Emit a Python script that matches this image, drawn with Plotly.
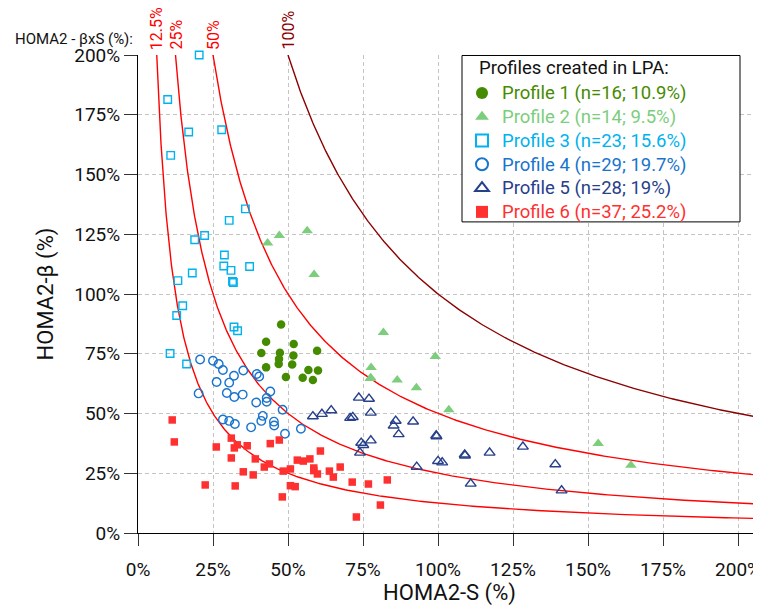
import numpy as np
import plotly.graph_objects as go

# ---- data (HOMA2-S %, HOMA2-beta %) ----
p1_s = [47.7, 42.7, 51.9, 41.1, 47.3, 59.7, 51.8, 47.0, 46.9, 51.4, 42.7, 56.8, 60.0, 49.3, 54.9, 58.3]
p1_b = [87.2, 80.0, 79.1, 75.3, 75.4, 76.3, 74.3, 72.8, 70.7, 70.5, 69.3, 68.2, 68.0, 65.3, 65.0, 64.0]

p2_s = [43.2, 47.1, 56.4, 58.7, 81.8, 99.1, 77.7, 77.4, 77.6, 86.4, 92.8, 103.6, 153.4, 164.3]
p2_b = [121.3, 124.5, 126.5, 108.2, 83.9, 73.8, 69.2, 64.6, 65.0, 64.0, 60.8, 51.6, 37.4, 28.3]

p3_s = [20.4, 9.9, 16.9, 27.9, 10.9, 35.8, 30.4, 22.2, 18.9, 28.8, 28.6, 31.0, 37.2, 18.1, 13.3,
        31.5, 31.8, 14.9, 12.9, 32.0, 33.2, 10.7, 16.2]
p3_b = [200.0, 181.4, 167.8, 168.7, 158.0, 135.6, 130.8, 124.5, 122.7, 116.3, 111.7, 109.9, 111.5,
        108.8, 105.6, 105.3, 104.8, 95.1, 91.0, 86.2, 84.6, 75.1, 70.7]

p4_s = [20.7, 25.0, 26.9, 28.3, 35.1, 32.0, 39.6, 40.4, 26.2, 30.4, 20.2, 29.6, 32.1, 34.9, 44.1,
        42.9, 42.9, 39.4, 48.2, 28.3, 30.4, 32.3, 37.7, 41.6, 41.1, 45.3, 45.4, 49.0, 54.3]
p4_b = [72.6, 72.1, 70.7, 68.2, 68.0, 65.8, 66.5, 65.5, 63.2, 62.9, 58.4, 58.6, 56.9, 57.9, 59.2,
        56.5, 54.9, 54.6, 51.6, 47.5, 46.9, 45.6, 44.2, 49.0, 46.9, 46.6, 45.0, 41.5, 43.6]

p5_s = [58.3, 61.3, 64.4, 70.7, 71.6, 73.6, 77.0, 77.6, 74.4, 75.1, 77.6, 74.0, 85.9, 85.2, 91.7,
        86.9, 99.4, 99.5, 92.9, 100.0, 101.4, 108.9, 109.0, 117.2, 128.3, 110.9, 139.1, 141.2]
p5_b = [48.8, 49.8, 51.3, 48.1, 48.5, 56.6, 56.1, 50.3, 37.7, 36.8, 38.7, 33.6, 46.9, 44.9, 46.6,
        41.3, 40.8, 40.4, 27.7, 30.1, 29.5, 32.8, 32.4, 33.6, 36.1, 20.6, 28.7, 17.8]

p6_s = [11.4, 12.1, 22.4, 26.1, 31.1, 33.1, 32.1, 31.1, 32.4, 36.4, 35.1, 39.1, 38.4, 42.1, 43.8,
        44.1, 47.1, 48.1, 48.4, 50.8, 50.8, 52.4, 53.1, 55.1, 57.3, 60.8, 58.6, 58.6, 59.8, 63.8,
        65.1, 67.4, 71.4, 72.8, 76.8, 80.8, 83.1]
p6_b = [47.3, 38.1, 20.1, 36.0, 39.7, 36.9, 35.6, 31.4, 19.7, 36.5, 25.6, 31.0, 24.3, 27.6, 28.9,
        37.4, 38.9, 15.1, 25.9, 26.8, 19.8, 19.4, 30.5, 30.1, 31.0, 34.3, 27.2, 26.1, 24.7, 25.9,
        23.4, 27.6, 21.3, 6.7, 20.5, 11.7, 22.2]

profile_names = ["Profile 1 (n=16; 10.9%)", "Profile 2 (n=14; 9.5%)", "Profile 3 (n=23; 15.6%)",
                 "Profile 4 (n=29; 19.7%)", "Profile 5 (n=28; 19%)", "Profile 6 (n=37; 25.2%)"]
profile_colors = ["#458B00", "#7CCD7C", "#00B2EE", "#1874CD", "#27408B", "#FF3030"]

# iso-lines of HOMA2 beta x S (%)
iso_levels = [12.5, 25, 50, 100]
iso_labels = ["12.5%", "25%", "50%", "100%"]
iso_colors = ["#FF0000", "#FF0000", "#FF0000", "#8B0000"]

x_ticks = [0, 25, 50, 75, 100, 125, 150, 175, 200]
y_ticks = [0, 25, 50, 75, 100, 125, 150, 175, 200]

# ---- geometry (screen pixels; page body has an 8px margin) ----
OFF = 8
W, H = 761, 606 - OFF
PLOT_L, PLOT_R, PLOT_T, PLOT_B = 138, 761, 55, 533.3   # screen px of plot area
L, R, T, B = PLOT_L - OFF, W + OFF - PLOT_R, PLOT_T - OFF, 606 - PLOT_B
X_MAX = 200 * (PLOT_R - PLOT_L) / 600.0
Y_MAX = 200


def px_x(px):
    return (px - PLOT_L) / (PLOT_R - PLOT_L)


def px_y(py):
    return (PLOT_B - py) / (PLOT_B - PLOT_T)


fig = go.Figure()

# iso curves
for lev, col in zip(iso_levels, iso_colors):
    s = np.geomspace(lev * 100 / Y_MAX, X_MAX, 300)
    fig.add_trace(go.Scatter(x=s, y=lev * 100 / s, mode="lines",
                             line=dict(color=col, width=1.4),
                             showlegend=False, hoverinfo="skip"))

series = [(p1_s, p1_b, "circle", 8.5, 0), (p2_s, p2_b, "triangle-up", 10, 0),
          (p3_s, p3_b, "square-open", 7.5, 1.4), (p4_s, p4_b, "circle-open", 8.5, 1.4),
          (p5_s, p5_b, "triangle-up-open", 9.5, 1.4), (p6_s, p6_b, "square", 7.5, 0)]

for (xs, ys, sym, size, lw), name, col in zip(series, profile_names, profile_colors):
    fig.add_trace(go.Scatter(
        x=xs, y=ys, mode="markers", cliponaxis=False,
        marker=dict(symbol=sym, size=size, color=col, line=dict(color=col, width=lw)),
        name=f"<span style='color:{col};font-size:18.5px'>{name}</span>"))

annotations = []
for lev, lab, col in zip(iso_levels, iso_labels, iso_colors):
    annotations.append(dict(x=lev * 100 / Y_MAX, xref="x", y=1, yref="paper", yshift=3,
                            text=lab, textangle=-90, showarrow=False,
                            xanchor="center", yanchor="bottom",
                            font=dict(family="Roboto", size=16, color=col)))
annotations.append(dict(x=px_x(13), xref="paper", y=px_y(38.5), yref="paper",
                        text="HOMA2 - βxS (%):", showarrow=False,
                        xanchor="left", yanchor="middle",
                        font=dict(family="Roboto", size=15, color="#111")))
annotations.append(dict(x=px_x(477), xref="paper", y=px_y(68.5), yref="paper",
                        text="Profiles created in LPA:", showarrow=False,
                        xanchor="left", yanchor="middle",
                        font=dict(family="Roboto", size=18.5, color="#111")))

fig.update_layout(
    width=W, height=H,
    margin=dict(l=L, r=R, t=T, b=B, autoexpand=False),
    paper_bgcolor="white", plot_bgcolor="white",
    font=dict(family="Roboto", color="#111"),
    showlegend=True,
    legend=dict(x=px_x(462), y=px_y(76), xanchor="left", yanchor="top",
                bgcolor="rgba(0,0,0,0)", borderwidth=0,
                font=dict(family="Roboto", size=16), itemsizing="constant",
                tracegroupgap=0),
    annotations=annotations,
    shapes=[dict(type="rect", xref="paper", yref="paper",
                 x0=px_x(462), x1=px_x(740), y0=px_y(222), y1=px_y(55.5),
                 line=dict(color="black", width=1), fillcolor="white", layer="above")],
    xaxis=dict(range=[0, X_MAX], tickvals=x_ticks, ticktext=[f"{v}%" for v in x_ticks],
               showgrid=True, gridcolor="#c4c4c4", griddash="4px,3px", gridwidth=1,
               zeroline=False, showline=True, linecolor="black", linewidth=1,
               ticks="outside", ticklen=12, tickcolor="#333", tickwidth=1,
               ticklabelstandoff=7, ticklabeloverflow="allow",
               tickfont=dict(family="Roboto", size=19, color="#111"),
               title=dict(text="HOMA2-S (%)", font=dict(family="Roboto", size=22, color="#111"),
                          standoff=2)),
    yaxis=dict(range=[0, Y_MAX], tickvals=y_ticks, ticktext=[f"{v}%" for v in y_ticks],
               showgrid=True, gridcolor="#c4c4c4", griddash="4px,3px", gridwidth=1,
               zeroline=False, showline=True, linecolor="black", linewidth=1,
               ticks="outside", ticklen=13, tickcolor="#333", tickwidth=1,
               tickfont=dict(family="Roboto", size=19, color="#111"),
               title=dict(text="HOMA2-β (%)", font=dict(family="Roboto", size=22, color="#111"),
                          standoff=14)),
)

fig.write_html("out.html")
